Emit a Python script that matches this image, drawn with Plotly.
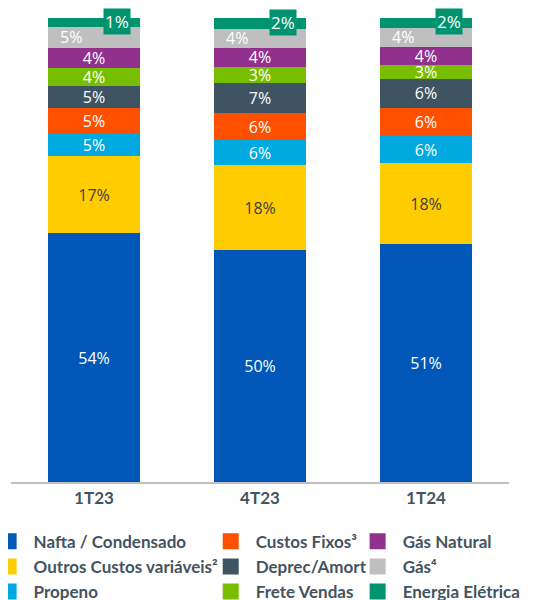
import plotly.graph_objects as go

periods = ["1T23", "4T23", "1T24"]

series_names = ["Nafta / Condensado", "Outros Custos variáveis²", "Propeno",
                "Custos Fixos³", "Deprec/Amort", "Frete Vendas",
                "Gás Natural", "Gás⁴", "Energia Elétrica"]

nafta = [53.6, 49.9, 51.2]
outros = [16.6, 18.4, 17.5]
propeno = [4.8, 5.4, 5.9]
custos = [5.6, 5.8, 6.0]
deprec = [4.8, 6.5, 6.3]
frete = [3.9, 3.5, 3.0]
gas_natural = [4.3, 4.1, 3.9]
gas = [4.5, 4.1, 4.1]
energia = [1.9, 2.4, 2.1]

nafta_lbl = ["54%", "50%", "51%"]
outros_lbl = ["17%", "18%", "18%"]
propeno_lbl = ["5%", "6%", "6%"]
custos_lbl = ["5%", "6%", "6%"]
deprec_lbl = ["5%", "7%", "6%"]
frete_lbl = ["4%", "3%", "3%"]
gas_natural_lbl = ["4%", "4%", "4%"]
gas_lbl = ["5%", "4%", "4%"]
energia_lbl = ["1%", "2%", "2%"]

values = [nafta, outros, propeno, custos, deprec, frete, gas_natural, gas, energia]
labels = [nafta_lbl, outros_lbl, propeno_lbl, custos_lbl, deprec_lbl, frete_lbl,
          gas_natural_lbl, gas_lbl, energia_lbl]
colors = ["#0057B8", "#FFCC00", "#00A9E0", "#FF5000", "#3F5463", "#78BE00",
          "#92308E", "#BFBFBF", "#009370"]
text_colors = ["white", "#404040", "white", "white", "white", "white", "white", "white", "white"]
legend_ids = ["legend", "legend", "legend", "legend2", "legend2", "legend2",
              "legend3", "legend3", "legend3"]

FONT = "Open Sans, sans-serif"
LFONT = "Lato, sans-serif"
SLATE = "#44535F"
TSIZE = 16

fig = go.Figure()
for i, (name, vals, lbl, col, tcol) in enumerate(
        zip(series_names, values, labels, colors, text_colors)):
    inside = name not in ("Gás⁴", "Energia Elétrica")
    fig.add_trace(go.Bar(
        x=periods, y=vals, name=name, marker_color=col, marker_line_width=0,
        text=lbl if inside else None,
        textposition="inside" if inside else "none",
        insidetextanchor="middle",
        textangle=0,
        constraintext="none",
        textfont=dict(color=tcol, size=TSIZE, family=FONT),
        showlegend=False,
        hoverinfo="skip",
    ))

# legend entries with square swatches
for i, (name, col, lg) in enumerate(zip(series_names, colors, legend_ids)):
    fig.add_trace(go.Scatter(
        x=[None], y=[None], mode="markers", name=name,
        marker=dict(symbol="square", size=16, color=col, line_width=0),
        legend=lg, legendrank=i, showlegend=True, hoverinfo="skip",
    ))

for j, p in enumerate(periods):
    base_gas = sum(v[j] for v in values[:7])
    fig.add_annotation(x=p, y=base_gas + gas[j] / 2, text=gas_lbl[j], showarrow=False,
                       xshift=-23, font=dict(color="white", size=TSIZE, family=FONT))
    base_en = base_gas + gas[j]
    fig.add_annotation(x=p, y=base_en + energia[j] / 2, text=energia_lbl[j], showarrow=False,
                       xshift=23, yshift=1, bgcolor="#009370", borderpad=1,
                       font=dict(color="white", size=17, family=FONT))

legend_common = dict(orientation="v", yanchor="top", y=-0.09, xanchor="left",
                     font=dict(family=LFONT, size=17, color=SLATE, weight="bold"),
                     bgcolor="rgba(0,0,0,0)", tracegroupgap=0, itemwidth=40,
                     itemsizing="trace", traceorder="normal")

fig.update_layout(
    width=533, height=592,
    margin=dict(l=3, r=32, t=10, b=118, autoexpand=False),
    paper_bgcolor="white", plot_bgcolor="white",
    barmode="stack", bargap=0.445,
    uniformtext=dict(minsize=TSIZE, mode="show"),
    showlegend=True,
    legend=dict(x=-0.055, **legend_common),
    legend2=dict(x=0.391, **legend_common),
    legend3=dict(x=0.686, **legend_common),
    xaxis=dict(showline=True, linecolor="#BFBFBF", linewidth=1.5, ticks="", ticklen=0,
               ticklabelstandoff=0,
               tickfont=dict(family=LFONT, size=17, color=SLATE, weight="bold"),
               range=[-0.5, 2.5], fixedrange=True),
    yaxis=dict(range=[0, 100], visible=False, showgrid=False, fixedrange=True),
    font=dict(family=FONT),
)

fig.write_html("out.html")
